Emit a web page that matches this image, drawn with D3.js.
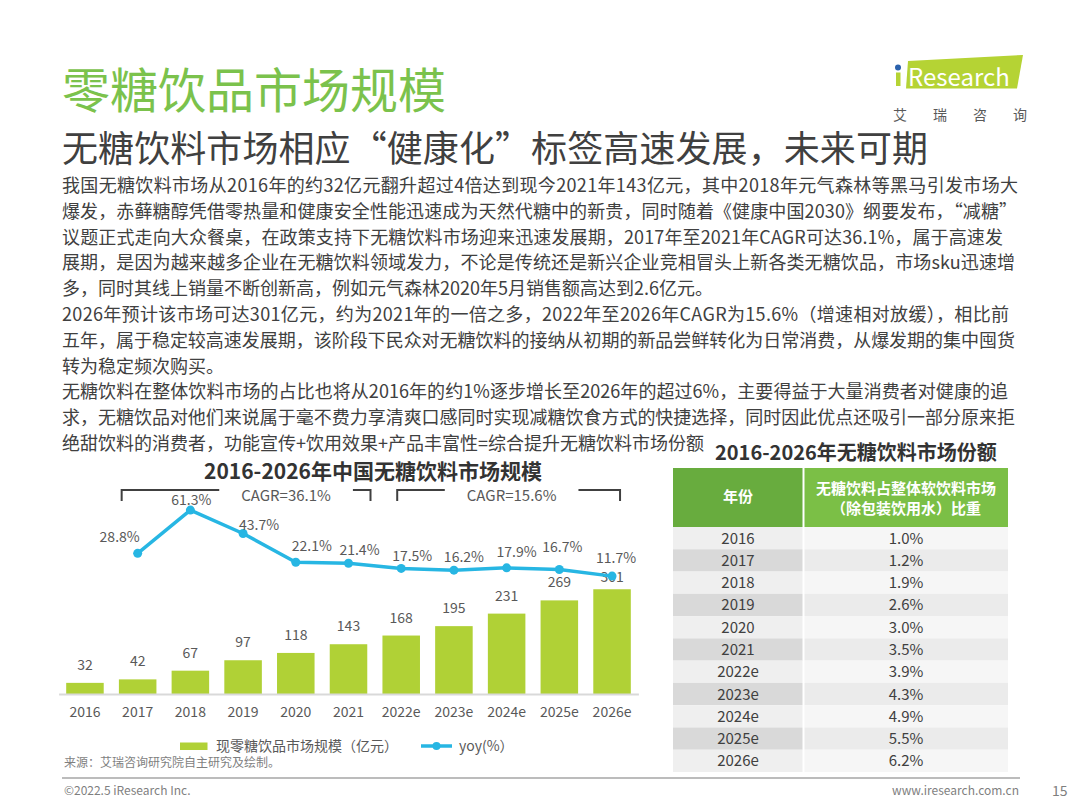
<!DOCTYPE html>
<html>
<head>
<meta charset="utf-8">
<script src="https://cdn.jsdelivr.net/npm/d3@7"></script>
<style>
  body { margin: 0; background: #fff; }
  svg { display: block; }
  text { font-family: "Noto Sans CJK SC", "Noto Sans", sans-serif; }
</style>
</head>
<body>
<svg id="slide" width="1080" height="810"></svg>
<script>
"use strict";

// ---- data ----
var years = ["2016", "2017", "2018", "2019", "2020", "2021", "2022e", "2023e", "2024e", "2025e", "2026e"];
var marketSize = [32, 42, 67, 97, 118, 143, 168, 195, 231, 269, 301];     // 亿元
var yoy = [null, 28.8, 61.3, 43.7, 22.1, 21.4, 17.5, 16.2, 17.9, 16.7, 11.7]; // %
var share = [1.0, 1.2, 1.9, 2.6, 3.0, 3.5, 3.9, 4.3, 4.9, 5.5, 6.2];      // %
var cagrNotes = [
    {from: "2017", to: "2021", label: "CAGR=36.1%"},
    {from: "2022e", to: "2026e", label: "CAGR=15.6%"}
];

var pageTitle = "零糖饮品市场规模";
var pageSubtitle = "无糖饮料市场相应“健康化”标签高速发展，未来可期";
var bodyLines = [
    "我国无糖饮料市场从2016年的约32亿元翻升超过4倍达到现今2021年143亿元，其中2018年元气森林等黑马引发市场大",
    "爆发，赤藓糖醇凭借零热量和健康安全性能迅速成为天然代糖中的新贵，同时随着《健康中国2030》纲要发布，“减糖”",
    "议题正式走向大众餐桌，在政策支持下无糖饮料市场迎来迅速发展期，2017年至2021年CAGR可达36.1%，属于高速发",
    "展期，是因为越来越多企业在无糖饮料领域发力，不论是传统还是新兴企业竞相冒头上新各类无糖饮品，市场sku迅速增",
    "多，同时其线上销量不断创新高，例如元气森林2020年5月销售额高达到2.6亿元。",
    "2026年预计该市场可达301亿元，约为2021年的一倍之多，2022年至2026年CAGR为15.6%（增速相对放缓），相比前",
    "五年，属于稳定较高速发展期，该阶段下民众对无糖饮料的接纳从初期的新品尝鲜转化为日常消费，从爆发期的集中囤货",
    "转为稳定频次购买。",
    "无糖饮料在整体饮料市场的占比也将从2016年的约1%逐步增长至2026年的超过6%，主要得益于大量消费者对健康的追",
    "求，无糖饮品对他们来说属于毫不费力享清爽口感同时实现减糖饮食方式的快捷选择，同时因此优点还吸引一部分原来拒",
    "绝甜饮料的消费者，功能宣传+饮用效果+产品丰富性=综合提升无糖饮料市场份额"
];
// width each body line fills (0 = natural width)
var bodyWidths = [956, 955, 941, 953, 0, 947, 953, 0, 946, 953, 0];

var chartTitle = "2016-2026年中国无糖饮料市场规模";
var tableTitle = "2016-2026年无糖饮料市场份额";
var tableHead = ["年份", "无糖饮料占整体软饮料市场", "（除包装饮用水）比重"];
var legendBar = "现零糖饮品市场规模（亿元）";
var legendLine = "yoy(%）";
var sourceNote = "来源：艾瑞咨询研究院自主研究及绘制。";

// ---- colours ----
var GREEN_TITLE = "#7bc24c";
var BAR = "#b0d136";
var LINE = "#27b6e3";
var TEXT = "#404040";
var LABEL = "#595959";

var svg = d3.select("#slide");

// ---- header ----
svg.append("text")
    .attr("x", 62).attr("y", 108)
    .attr("font-size", 48)
    .attr("fill", GREEN_TITLE)
    .text(pageTitle);

svg.append("text")
    .attr("x", 62).attr("y", 162)
    .attr("font-size", 36)
    .attr("fill", TEXT)
    .attr("textLength", 866)
    .attr("lengthAdjust", "spacing")
    .text(pageSubtitle);

// logo
var logo = svg.append("g");
logo.append("polygon")
    .attr("points", "908,61 1023,55 1017,88.5 906,88.5")
    .attr("fill", "#b5d334");
logo.append("rect")
    .attr("x", 896).attr("y", 72.5)
    .attr("width", 4.5).attr("height", 13.5)
    .attr("fill", "#b5d334");
logo.append("circle")
    .attr("cx", 898).attr("cy", 67.5).attr("r", 3)
    .attr("fill", "#2b62ad");
logo.append("text")
    .attr("x", 908).attr("y", 86)
    .attr("font-family", "'Open Sans', sans-serif")
    .attr("font-size", 24)
    .attr("fill", "#fff")
    .text("Research");
logo.append("text")
    .attr("x", 893).attr("y", 120)
    .attr("font-size", 14)
    .attr("letter-spacing", 26)
    .attr("fill", LABEL)
    .text("艾瑞咨询");

// ---- body text ----
svg.append("g")
    .selectAll("text")
    .data(bodyLines)
    .join("text")
    .attr("x", 62)
    .attr("y", function(d, i) { return 192 + i * 25.8; })
    .attr("font-size", 18)
    .attr("fill", TEXT)
    .each(function(d, i) {
        if (bodyWidths[i]) {
            d3.select(this)
                .attr("textLength", bodyWidths[i])
                .attr("lengthAdjust", "spacing");
        }
    })
    .text(function(d) { return d; });

// ---- left chart ----
var chart = svg.append("g");

var x = d3.scaleBand()
    .domain(years)
    .range([58.6, 638.4])
    .paddingInner(0.288)
    .paddingOuter(0.144);
var yBar = d3.scaleLinear().domain([0, 350]).range([694, 572.2]);
var yLine = d3.scaleLinear().domain([0, 70]).range([591.7, 498.5]);
function cx(d) { return x(d) + x.bandwidth() / 2; }

chart.append("text")
    .attr("x", 373).attr("y", 479)
    .attr("text-anchor", "middle")
    .attr("font-size", 21)
    .attr("font-weight", "bold")
    .attr("fill", "#333")
    .text(chartTitle);

var rows = years.map(function(y, i) {
    return {year: y, size: marketSize[i], yoy: yoy[i]};
});

chart.append("g")
    .selectAll("rect")
    .data(rows)
    .join("rect")
    .attr("x", function(d) { return x(d.year); })
    .attr("y", function(d) { return yBar(d.size); })
    .attr("width", x.bandwidth())
    .attr("height", function(d) { return yBar(0) - yBar(d.size); })
    .attr("fill", BAR);

// bar value labels (last one sits lower, behind the line)
var barLabelDy = [-13, -13, -13, -13, -13, -13, -13, -13, -13, -13, -7];
chart.append("g")
    .selectAll("text")
    .data(rows)
    .join("text")
    .attr("x", function(d) { return cx(d.year); })
    .attr("y", function(d, i) { return yBar(d.size) + barLabelDy[i]; })
    .attr("text-anchor", "middle")
    .attr("font-size", 14)
    .attr("fill", LABEL)
    .text(function(d) { return d.size; });

var axis = chart.append("g")
    .attr("transform", "translate(0," + yBar(0) + ")")
    .call(d3.axisBottom(x).tickSize(0).tickPadding(13));
axis.attr("font-family", "'Noto Sans CJK SC', 'Noto Sans', sans-serif")
    .attr("font-size", 14);
axis.select(".domain")
    .attr("stroke", "#d9d9d9")
    .attr("stroke-width", 2);
axis.selectAll("text").attr("fill", LABEL);

// yoy line
var yoyRows = rows.filter(function(d) { return d.yoy != null; });
var line = d3.line()
    .x(function(d) { return cx(d.year); })
    .y(function(d) { return yLine(d.yoy); });

chart.append("path")
    .datum(yoyRows)
    .attr("d", line)
    .attr("fill", "none")
    .attr("stroke", LINE)
    .attr("stroke-width", 3.5)
    .attr("stroke-linejoin", "round");

chart.append("g")
    .selectAll("circle")
    .data(yoyRows)
    .join("circle")
    .attr("cx", function(d) { return cx(d.year); })
    .attr("cy", function(d) { return yLine(d.yoy); })
    .attr("r", 4.5)
    .attr("fill", LINE);

// yoy label offsets from each point
var yoyDx = [-18, 1, 16, 16, 11, 11, 10, 10, 3, 4];
var yoyDy = [-11, -5, -4, -11, -8, -7, -8, -11, -17, -13];
chart.append("g")
    .selectAll("text")
    .data(yoyRows)
    .join("text")
    .attr("x", function(d, i) { return cx(d.year) + yoyDx[i]; })
    .attr("y", function(d, i) { return yLine(d.yoy) + yoyDy[i]; })
    .attr("text-anchor", "middle")
    .attr("font-size", 14)
    .attr("fill", LABEL)
    .text(function(d) { return d.yoy.toFixed(1) + "%"; });

// CAGR brackets
var bracketY = 490;
var bracketLayout = [
    {left: -16, right: 22, textAt: "2019", textDx: 43},
    {left: -4, right: 8, textAt: "2024e", textDx: 5}
];
cagrNotes.forEach(function(note, i) {
    var lay = bracketLayout[i];
    var x0 = cx(note.from) + lay.left;
    var x1 = cx(note.to) + lay.right;
    var tx = cx(lay.textAt) + lay.textDx;

    var label = chart.append("text")
        .attr("x", tx).attr("y", bracketY + 11)
        .attr("text-anchor", "middle")
        .attr("font-size", 15)
        .attr("fill", LABEL)
        .text(note.label);
    var half = label.node().getComputedTextLength() / 2 + 22;

    chart.append("path")
        .attr("d", "M" + x0 + "," + (bracketY + 11) + "V" + bracketY + "H" + (tx - half) +
                   "M" + (tx + half) + "," + bracketY + "H" + x1 + "V" + (bracketY + 11))
        .attr("fill", "none")
        .attr("stroke", "#404040")
        .attr("stroke-width", 2);
});

// legend
var legend = chart.append("g");
legend.append("rect")
    .attr("x", 180).attr("y", 742.5)
    .attr("width", 27.5).attr("height", 7.5)
    .attr("fill", BAR);
legend.append("text")
    .attr("x", 216).attr("y", 751)
    .attr("font-size", 14)
    .attr("fill", LABEL)
    .text(legendBar);
legend.append("line")
    .attr("x1", 421).attr("x2", 452)
    .attr("y1", 746).attr("y2", 746)
    .attr("stroke", LINE)
    .attr("stroke-width", 3.5);
legend.append("circle")
    .attr("cx", 436.5).attr("cy", 746).attr("r", 4)
    .attr("fill", LINE);
legend.append("text")
    .attr("x", 459).attr("y", 751)
    .attr("font-size", 14)
    .attr("fill", LABEL)
    .text(legendLine);

svg.append("text")
    .attr("x", 64).attr("y", 767)
    .attr("font-size", 12)
    .attr("fill", "#7f7f7f")
    .text(sourceNote);

// ---- right table ----
var table = svg.append("g");

table.append("text")
    .attr("x", 715).attr("y", 460)
    .attr("font-size", 20)
    .attr("font-weight", "bold")
    .attr("fill", "#333")
    .text(tableTitle);

var col1 = {x: 673, w: 129.5, cx: 738};
var col2 = {x: 804.5, w: 203.5, cx: 906};
var headTop = 468, headBottom = 527;

table.append("rect")
    .attr("x", col1.x).attr("y", headTop)
    .attr("width", col1.w).attr("height", headBottom - headTop)
    .attr("fill", "#68ac3e");
table.append("rect")
    .attr("x", col2.x).attr("y", headTop)
    .attr("width", col2.w).attr("height", headBottom - headTop)
    .attr("fill", "#7bbf46");
table.append("text")
    .attr("x", col1.cx).attr("y", 502)
    .attr("text-anchor", "middle")
    .attr("font-size", 15).attr("font-weight", "bold")
    .attr("fill", "#fff")
    .text(tableHead[0]);
table.append("text")
    .attr("x", col2.cx).attr("y", 493.5)
    .attr("text-anchor", "middle")
    .attr("font-size", 15).attr("font-weight", "bold")
    .attr("fill", "#fff")
    .text(tableHead[1]);
table.append("text")
    .attr("x", col2.cx).attr("y", 513.5)
    .attr("text-anchor", "middle")
    .attr("font-size", 15).attr("font-weight", "bold")
    .attr("fill", "#fff")
    .text(tableHead[2]);

var yRow = d3.scaleBand().domain(years).range([headBottom, 772]);
var shareRows = years.map(function(y, i) { return {year: y, share: share[i]}; });

var row = table.append("g")
    .selectAll("g")
    .data(shareRows)
    .join("g")
    .attr("transform", function(d) { return "translate(0," + yRow(d.year) + ")"; });

row.append("rect")
    .attr("x", col1.x).attr("width", col1.w)
    .attr("height", yRow.bandwidth())
    .attr("fill", function(d, i) { return i % 2 ? "#d9d9d9" : "#efefef"; });
row.append("rect")
    .attr("x", col2.x).attr("width", col2.w)
    .attr("height", yRow.bandwidth())
    .attr("fill", function(d, i) { return i % 2 ? "#ebebeb" : "#f6f6f6"; });
row.append("text")
    .attr("x", col1.cx)
    .attr("y", yRow.bandwidth() / 2 + 5.5)
    .attr("text-anchor", "middle")
    .attr("font-size", 15)
    .attr("fill", TEXT)
    .text(function(d) { return d.year; });
row.append("text")
    .attr("x", col2.cx)
    .attr("y", yRow.bandwidth() / 2 + 5.5)
    .attr("text-anchor", "middle")
    .attr("font-size", 15)
    .attr("fill", TEXT)
    .text(function(d) { return d3.format(".1f")(d.share) + "%"; });

// ---- footer ----
svg.append("line")
    .attr("x1", 62).attr("x2", 1020)
    .attr("y1", 778).attr("y2", 778)
    .attr("stroke", "#a6a6a6")
    .attr("stroke-width", 1.5);
svg.append("text")
    .attr("x", 64).attr("y", 795)
    .attr("font-size", 12)
    .attr("fill", "#7f7f7f")
    .text("©2022.5 iResearch Inc.");
svg.append("text")
    .attr("x", 1019).attr("y", 795)
    .attr("text-anchor", "end")
    .attr("font-size", 12)
    .attr("fill", "#7f7f7f")
    .text("www.iresearch.com.cn");
svg.append("text")
    .attr("x", 1052).attr("y", 796)
    .attr("font-size", 14)
    .attr("fill", "#7f7f7f")
    .text("15");
</script>
</body>
</html>
